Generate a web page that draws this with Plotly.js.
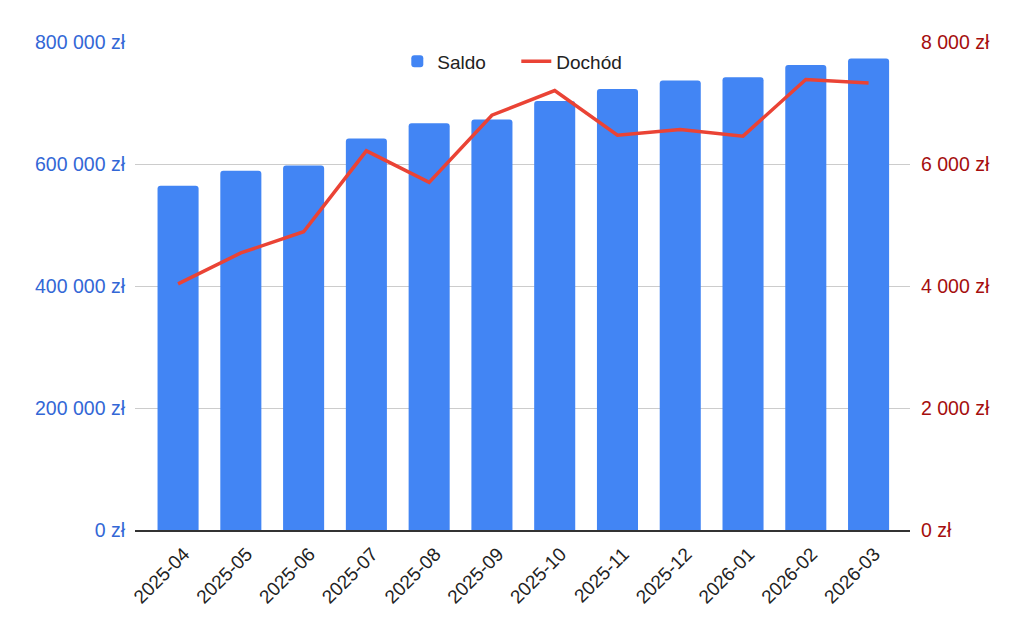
<!DOCTYPE html>
<html>
<head>
<meta charset="utf-8">
<script src="https://cdn.plot.ly/plotly-3.0.1.min.js"></script>
<style>html,body{margin:0;padding:0;background:#fff;}#chart{width:1024px;height:633px;}</style>
</head>
<body>
<div id="chart"></div>
<script>
const months = ["2025-04","2025-05","2025-06","2025-07","2025-08","2025-09","2025-10","2025-11","2025-12","2026-01","2026-02","2026-03"];
const saldo = [564300, 588900, 597700, 641900, 666900, 673000, 703400, 723100, 736800, 742200, 762400, 772800];
const dochod = [4034, 4542, 4890, 6216, 5699, 6800, 7205, 6473, 6566, 6457, 7385, 7329];
const leftTicks = [0, 200000, 400000, 600000, 800000];
const rightTicks = [0, 2000, 4000, 6000, 8000];
const fmt = v => String(v).replace(/\B(?=(\d{3})+(?!\d))/g, " ") + " zł";

const traces = [
  {type: "bar", name: "Saldo", x: months, y: saldo, marker: {color: "#4285f4", cornerradius: 3}, yaxis: "y"},
  {type: "scatter", mode: "lines", name: "Dochód", x: months, y: dochod, line: {color: "#ea4335", width: 3.5}, yaxis: "y2"}
];

const layout = {
  width: 1024, height: 633,
  margin: {l: 135, r: 114, t: 42, b: 102.5},
  paper_bgcolor: "#fff", plot_bgcolor: "#fff",
  font: {family: "Arial, 'Liberation Sans', sans-serif", size: 19, color: "#222"},
  bargap: 0.346,
  showlegend: true,
  legend: {orientation: "h", x: 0.492, xanchor: "center", y: 0.96, yanchor: "middle", font: {size: 19, color: "#222"}, bgcolor: "rgba(0,0,0,0)", itemwidth: 30, entrywidth: 74, entrywidthmode: "pixels", traceorder: "normal"},
  xaxis: {
    type: "category", range: [-0.686, 11.66], tickangle: -45,
    tickfont: {size: 19, color: "#222"}, showgrid: false, showline: true, linecolor: "#333", linewidth: 1.5,
    ticks: "", fixedrange: true, ticklabelshift: 6, ticklabelstandoff: 4
  },
  yaxis: {
    range: [0, 800000], tickvals: leftTicks, ticktext: leftTicks.map(fmt),
    tickfont: {size: 19.5, color: "#3367d6"}, gridcolor: "#cccccc", gridwidth: 1, zeroline: false,
    showline: false, ticks: "", ticklabelstandoff: 9
  },
  yaxis2: {
    range: [0, 8000], tickvals: rightTicks, ticktext: rightTicks.map(fmt),
    overlaying: "y", side: "right", showgrid: false, zeroline: false,
    tickfont: {size: 19.5, color: "#a50e0e"}, ticks: "", ticklabelstandoff: 10
  }
};

Plotly.newPlot("chart", traces, layout, {displayModeBar: false, staticPlot: true});
</script>
</body>
</html>
